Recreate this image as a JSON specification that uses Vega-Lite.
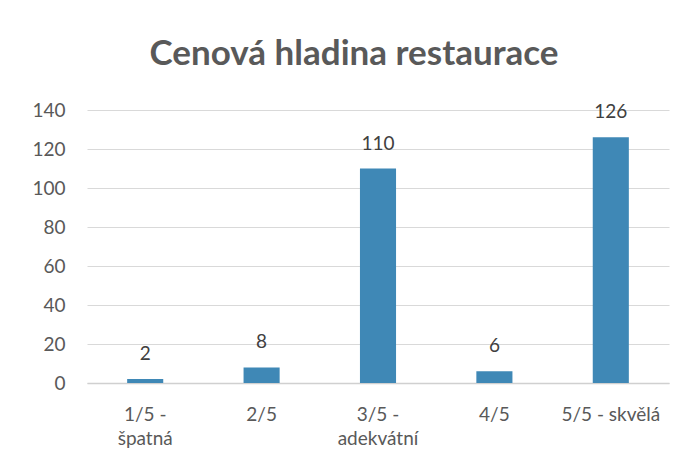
{
  "$schema": "https://vega.github.io/schema/vega-lite/v6.json",
  "width": 582,
  "height": 273,
  "autosize": {"type": "none"},
  "padding": {"left": 87, "top": 110, "right": 27, "bottom": 89},
  "background": "white",
  "config": {
    "view": {"stroke": null},
    "font": "Lato"
  },
  "title": {
    "text": "Cenová hladina restaurace",
    "font": "Lato",
    "fontSize": 35,
    "fontWeight": "bold",
    "color": "#595959",
    "anchor": "middle",
    "baseline": "alphabetic",
    "offset": 1,
    "dx": -24
  },
  "data": {
    "values": [
      {"kategorie": "1/5 - špatná", "pocet": 2},
      {"kategorie": "2/5", "pocet": 8},
      {"kategorie": "3/5 - adekvátní", "pocet": 110},
      {"kategorie": "4/5", "pocet": 6},
      {"kategorie": "5/5 - skvělá", "pocet": 126}
    ]
  },
  "encoding": {
    "x": {
      "field": "kategorie",
      "type": "nominal",
      "sort": null,
      "title": null,
      "scale": {"paddingInner": 0.69, "paddingOuter": 0.345},
      "axis": {
        "labelAngle": 0,
        "labelFont": "Lato",
        "labelFontSize": 19,
        "labelColor": "#595959",
        "labelPadding": 22,
        "labelLineHeight": 24,
        "labelExpr": "datum.value == '1/5 - špatná' ? ['1/5 -', 'špatná'] : datum.value == '3/5 - adekvátní' ? ['3/5 -', 'adekvátní'] : datum.value",
        "ticks": false,
        "domainColor": "#d0d0d0",
        "domainWidth": 1.5
      }
    },
    "y": {
      "field": "pocet",
      "type": "quantitative",
      "title": null,
      "scale": {"domain": [0, 140], "nice": false},
      "axis": {
        "values": [0, 20, 40, 60, 80, 100, 120, 140],
        "labelFont": "Lato",
        "labelFontSize": 19,
        "labelColor": "#595959",
        "labelPadding": 22,
        "ticks": false,
        "domain": false,
        "gridColor": "#d9d9d9",
        "gridWidth": 1
      }
    }
  },
  "layer": [
    {"mark": {"type": "bar", "color": "#3f88b6"}},
    {
      "mark": {
        "type": "text",
        "baseline": "alphabetic",
        "dy": -19,
        "fontSize": 19,
        "font": "Lato",
        "color": "#404040"
      },
      "encoding": {"text": {"field": "pocet", "type": "quantitative"}}
    }
  ]
}
